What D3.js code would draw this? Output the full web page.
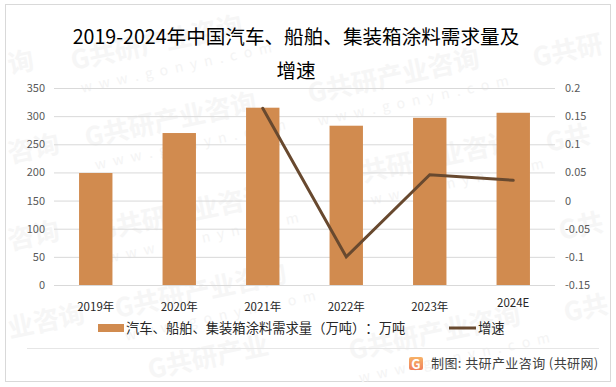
<!DOCTYPE html>
<html>
<head>
<meta charset="utf-8">
<script src="https://cdn.jsdelivr.net/npm/d3@7"></script>
<style>
  html, body { margin: 0; padding: 0; background: #fff; }
  svg { display: block; }
  text { font-family: "Noto Sans CJK SC", "Noto Sans", sans-serif; text-spacing-trim: space-all; font-kerning: none; }
</style>
</head>
<body>
<div class="chart"></div>
<script>
var years = ["2019年", "2020年", "2021年", "2022年", "2023年", "2024E"];
var demand = [199, 270, 315, 283, 297, 306];
var growth = [null, null, 0.164, -0.1, 0.046, 0.036];
var leftTicks = [0, 50, 100, 150, 200, 250, 300, 350];
var rightTicks = [-0.15, -0.1, -0.05, 0, 0.05, 0.1, 0.15, 0.2];

// watermark stamps, the ones at the edges only show part of the name
var stampText = ["G共研产业咨询", "G共研产业咨询", "G共研产业咨询", "G共研产业咨询", "G共研产业咨询",
  "G共研产业咨询", "G共研产业咨询", "G共研", "G共", "G共", "G共", "询", "咨询", "咨询", "业咨询", "G共研产业"];
var stampX = [73, 87, 100, 117, 310, 345, 351, 535, 548, 561, 566, 10, 10, 10, 10, 150];
var stampY = [70, 147, 240, 318, 103, 186, 360, 67, 152, 240, 322, 74, 163, 250, 338, 379];
var stampSub = [1, 1, 1, 1, 1, 1, 1, 0, 0, 0, 0, 0, 0, 0, 0, 0];

var svgWidth = 616;
var svgHeight = 387;
var margin = { top: 88, right: 61, bottom: 102, left: 54 };
var width = svgWidth - margin.left - margin.right;
var height = svgHeight - margin.top - margin.bottom;

var svg = d3.select(".chart")
  .append("svg")
  .attr("width", svgWidth)
  .attr("height", svgHeight);

// outer frame
svg.append("rect")
  .attr("x", 5.5).attr("y", 4.5)
  .attr("width", 605).attr("height", 377)
  .attr("fill", "#fff")
  .attr("stroke", "#d9d9d9")
  .attr("stroke-width", 1);

// watermarks
var stamps = svg.append("g").attr("class", "stamps");
stampText.forEach(function(t, i) {
  var g = stamps.append("g").attr("transform", `translate(${stampX[i]}, ${stampY[i]}) rotate(-12)`);
  g.append("text").attr("font-size", 26).attr("font-weight", 700)
    .attr("fill", "#f6f6f6").text(t);
  if (stampSub[i]) {
    g.append("text").attr("x", 4).attr("y", 24).attr("font-size", 14)
      .attr("letter-spacing", 7).attr("fill", "#f4f4f4").text("www.gonyn.com");
  }
});

var chartGroup = svg.append("g")
  .attr("transform", `translate(${margin.left}, ${margin.top})`);

var xScale = d3.scaleBand()
  .domain(years)
  .range([0, width])
  .paddingInner(0.6)
  .paddingOuter(0.3);

var yLeft = d3.scaleLinear().domain([0, 350]).range([height, 0]);
var yRight = d3.scaleLinear().domain([-0.15, 0.2]).range([height, 0]);

// left axis, ticks double as the grid lines
var leftAxis = chartGroup.append("g")
  .call(d3.axisLeft(yLeft).tickValues(leftTicks).tickSize(-width).tickPadding(9));
leftAxis.select(".domain").remove();
leftAxis.selectAll("line").attr("stroke", "#d9d9d9");
leftAxis.selectAll("text").attr("font-size", 11).attr("fill", "#595959");

var rightAxis = chartGroup.append("g")
  .attr("transform", `translate(${width}, 0)`)
  .call(d3.axisRight(yRight).tickValues(rightTicks).tickFormat(d => String(d)).tickSize(0).tickPadding(10));
rightAxis.select(".domain").remove();
rightAxis.selectAll("text").attr("font-size", 11).attr("fill", "#595959");

// bars
chartGroup.selectAll(".bar")
  .data(demand)
  .enter()
  .append("rect")
  .attr("class", "bar")
  .attr("x", (d, i) => xScale(years[i]))
  .attr("y", d => yLeft(d))
  .attr("width", xScale.bandwidth())
  .attr("height", d => height - yLeft(d))
  .attr("fill", "#d18b4f");

// growth line, starts in 2021
var line = d3.line()
  .defined(d => d !== null)
  .x((d, i) => xScale(years[i]) + xScale.bandwidth() / 2)
  .y(d => yRight(d));

chartGroup.append("path")
  .datum(growth)
  .attr("d", line)
  .attr("fill", "none")
  .attr("stroke", "#68492f")
  .attr("stroke-width", 3)
  .attr("stroke-linecap", "round");

// category labels, the last one sits a little higher in the original
chartGroup.selectAll(".year")
  .data(years)
  .enter()
  .append("text")
  .attr("class", "year")
  .attr("x", d => xScale(d) + xScale.bandwidth() / 2)
  .attr("y", (d, i) => height + (i === 5 ? 22 : 26))
  .attr("text-anchor", "middle")
  .attr("font-size", 11.5)
  .attr("fill", "#262626")
  .text(d => d);

// title
svg.append("text")
  .attr("x", 296).attr("y", 44)
  .attr("text-anchor", "middle")
  .attr("font-size", 19.6)
  .attr("fill", "#000")
  .text("2019-2024年中国汽车、船舶、集装箱涂料需求量及");
svg.append("text")
  .attr("x", 296).attr("y", 78)
  .attr("text-anchor", "middle")
  .attr("font-size", 19.6)
  .attr("fill", "#000")
  .text("增速");

// legend
svg.append("rect")
  .attr("x", 98).attr("y", 324)
  .attr("width", 26).attr("height", 8)
  .attr("fill", "#d18b4f");
svg.append("text")
  .attr("x", 126).attr("y", 333)
  .attr("font-size", 13.3)
  .attr("fill", "#262626")
  .text("汽车、船舶、集装箱涂料需求量（万吨）：万吨");
svg.append("line")
  .attr("x1", 449).attr("x2", 476)
  .attr("y1", 328).attr("y2", 328)
  .attr("stroke", "#68492f")
  .attr("stroke-width", 3);
svg.append("text")
  .attr("x", 478).attr("y", 333)
  .attr("font-size", 13.3)
  .attr("fill", "#262626")
  .text("增速");

// footer
svg.append("line")
  .attr("x1", 27).attr("x2", 599)
  .attr("y1", 348.5).attr("y2", 348.5)
  .attr("stroke", "#e6e6e6");

var logoFill = svg.append("defs").append("linearGradient")
  .attr("id", "logoFill")
  .attr("x1", 0).attr("y1", 0).attr("x2", 0).attr("y2", 1);
logoFill.append("stop").attr("offset", 0).attr("stop-color", "#f7b267");
logoFill.append("stop").attr("offset", 1).attr("stop-color", "#ef7f5c");

var logo = svg.append("g").attr("transform", "translate(409, 357)");
logo.append("rect")
  .attr("width", 14).attr("height", 13).attr("rx", 2)
  .attr("fill", "url(#logoFill)");
logo.append("text")
  .attr("x", 7).attr("y", 11.5)
  .attr("text-anchor", "middle")
  .attr("font-size", 13).attr("font-weight", 700)
  .attr("fill", "#fff")
  .text("G");
svg.append("text")
  .attr("x", 431).attr("y", 368)
  .attr("font-size", 13)
  .attr("letter-spacing", 0.4)
  .attr("fill", "#404040")
  .text("制图: 共研产业咨询 (共研网)");
</script>
</body>
</html>
